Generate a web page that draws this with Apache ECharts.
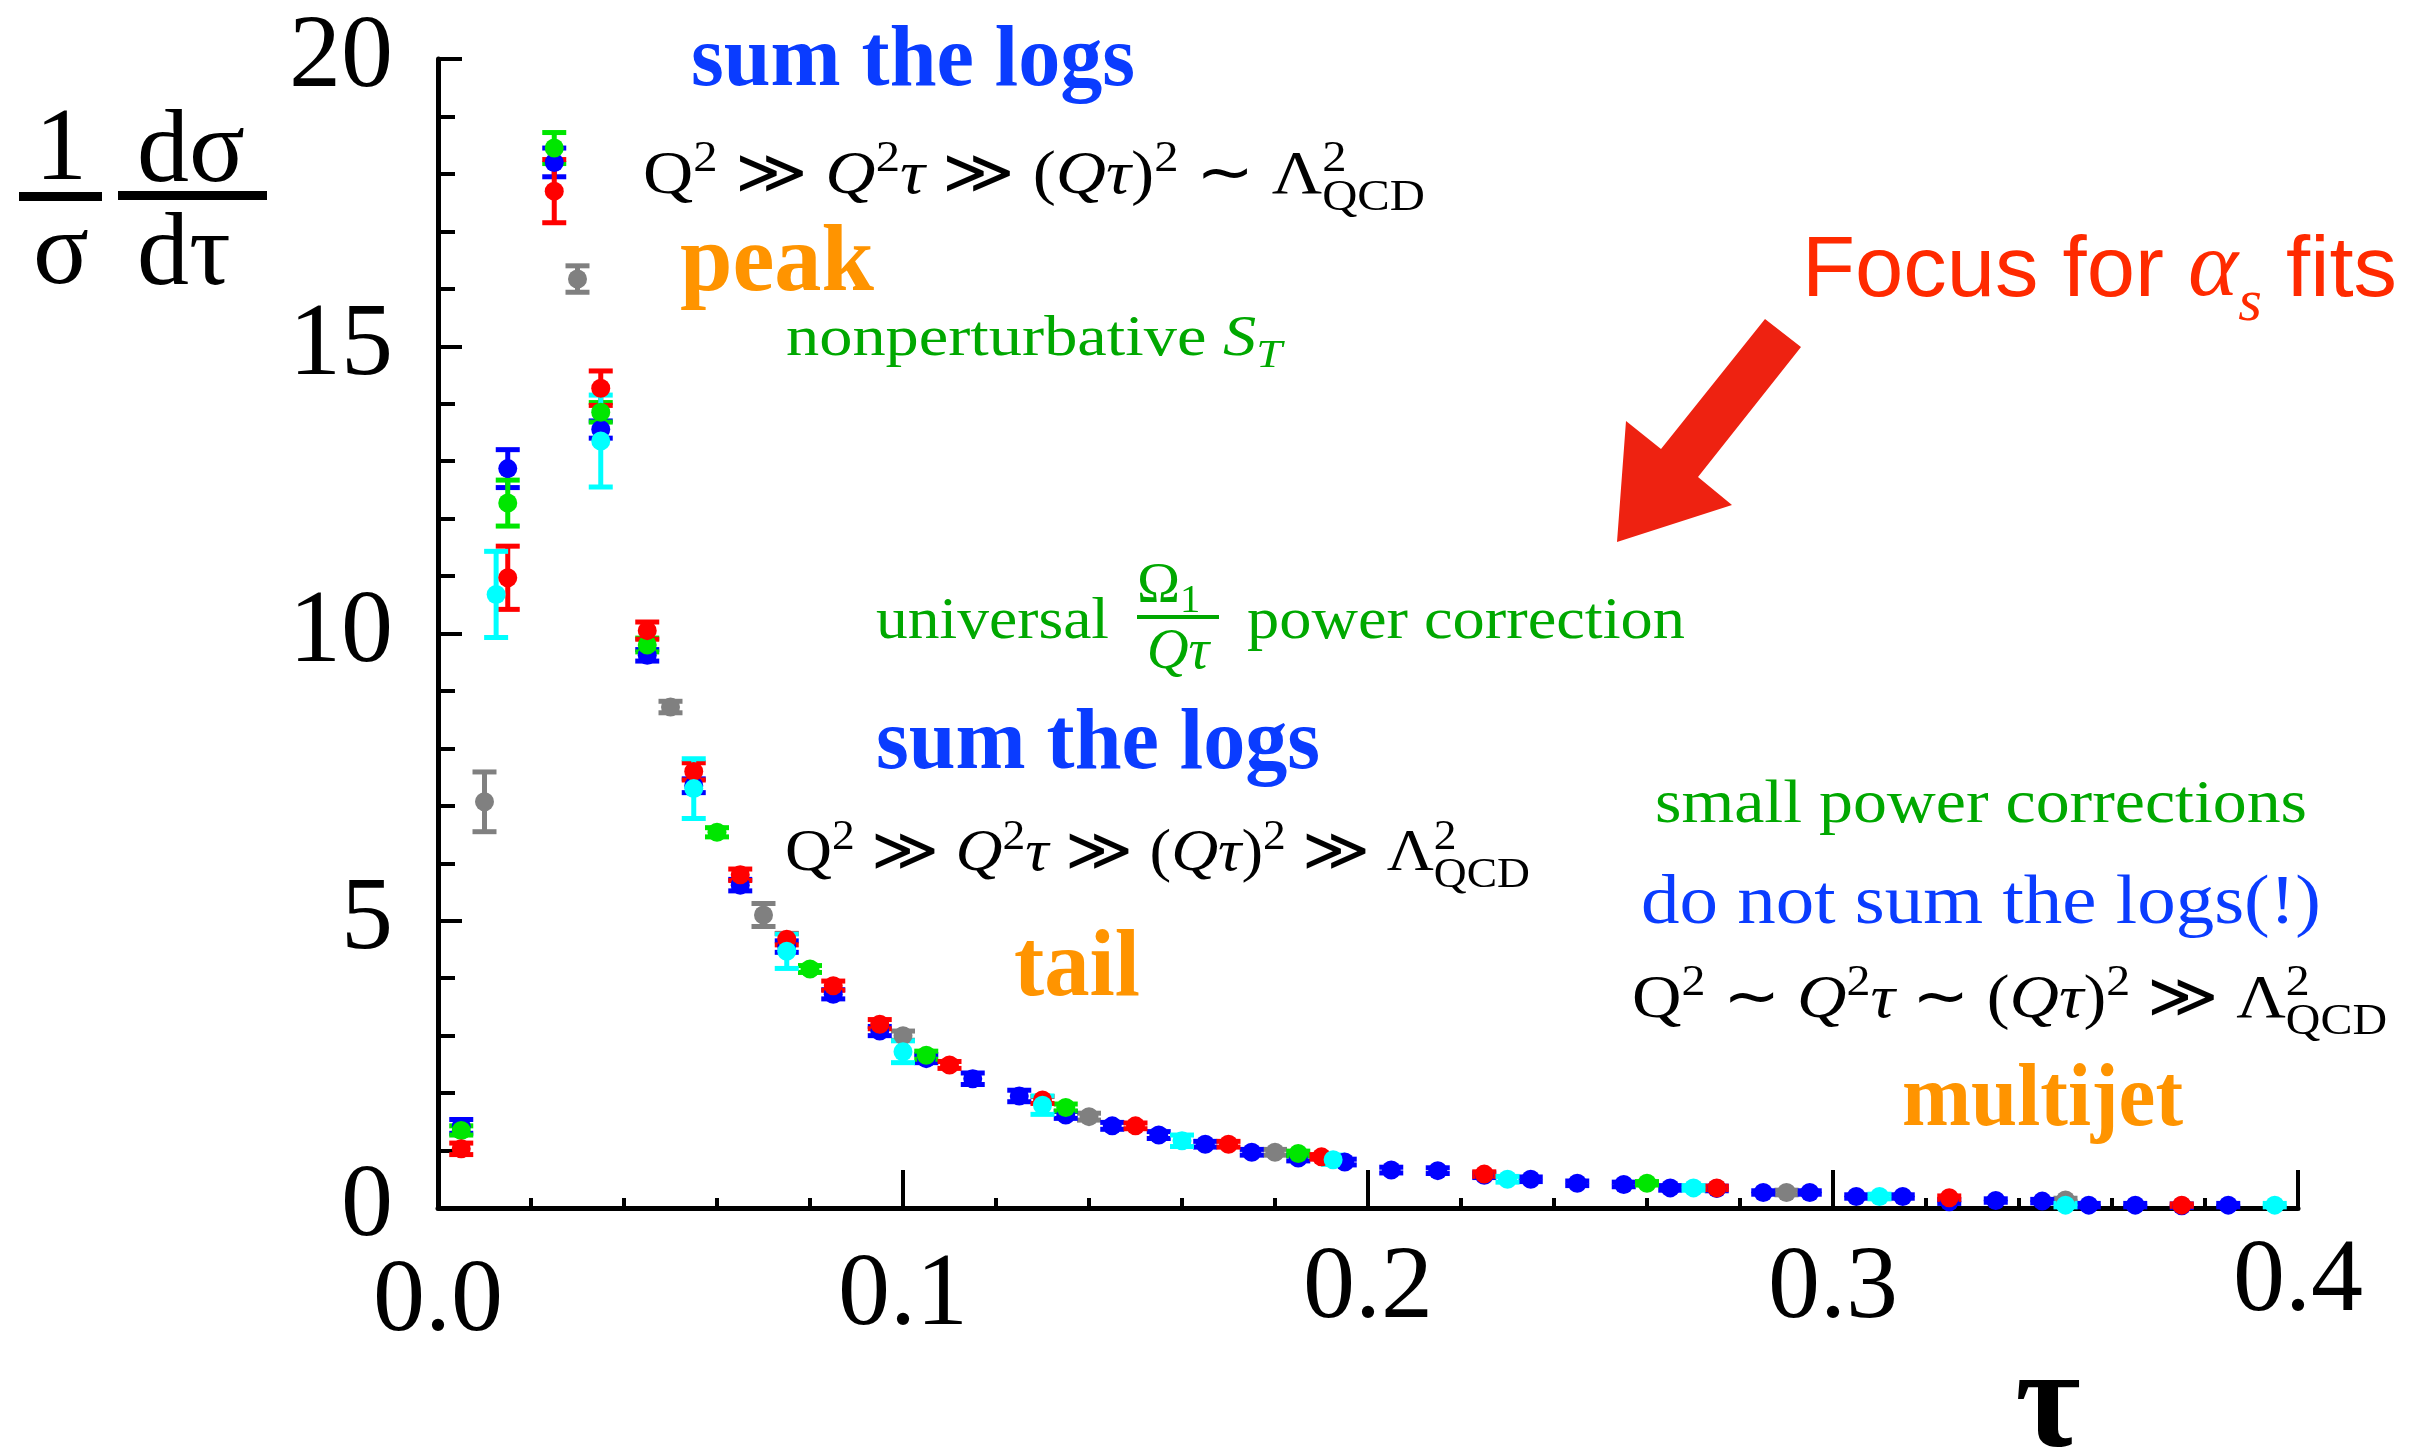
<!DOCTYPE html>
<html>
<head>
<meta charset="utf-8">
<script src="https://cdn.jsdelivr.net/npm/echarts@6/dist/echarts.min.js"></script>
<style>
  html, body { margin: 0; padding: 0; background: #fff; }
  #chart { width: 2428px; height: 1455px; }
</style>
</head>
<body>
<div id="chart"></div>
<script>
// Thrust distribution (1/σ) dσ/dτ from five experiments: [τ, value, error]
const grayData = [[0.01,7.07,0.52],[0.03,16.17,0.23],[0.05,8.72,0.1],[0.07,5.1,0.2],[0.1,3.0,0.08],[0.14,1.59,0.06],[0.18,0.97,0.05],[0.29,0.27,0.04],[0.35,0.14,0.03]];
const blueData = [[0.005,1.42,0.12],[0.015,12.87,0.33],[0.025,18.2,0.25],[0.035,13.55,0.15],[0.045,9.62,0.1],[0.055,7.35,0.12],[0.065,5.62,0.1],[0.075,4.55,0.1],[0.085,3.72,0.08],[0.095,3.08,0.08],[0.105,2.6,0.07],[0.115,2.25,0.1],[0.125,1.95,0.1],[0.135,1.62,0.06],[0.145,1.43,0.06],[0.155,1.27,0.06],[0.165,1.11,0.05],[0.175,0.97,0.05],[0.185,0.87,0.05],[0.195,0.8,0.05],[0.205,0.66,0.05],[0.215,0.65,0.05],[0.225,0.57,0.04],[0.235,0.5,0.04],[0.245,0.43,0.04],[0.255,0.41,0.04],[0.265,0.35,0.04],[0.275,0.34,0.04],[0.285,0.27,0.03],[0.295,0.27,0.03],[0.305,0.2,0.03],[0.315,0.2,0.03],[0.325,0.11,0.03],[0.335,0.13,0.03],[0.345,0.12,0.03],[0.355,0.05,0.03],[0.365,0.05,0.03],[0.375,0.04,0.03],[0.385,0.05,0.03]];
const greenData = [[0.005,1.35,0.08],[0.015,12.27,0.4],[0.025,18.45,0.27],[0.035,13.85,0.17],[0.045,9.8,0.12],[0.06,6.54,0.08],[0.08,4.16,0.06],[0.105,2.66,0.07],[0.135,1.75,0.06],[0.185,0.95,0.04],[0.26,0.43,0.03]];
const redData = [[0.005,1.03,0.1],[0.015,10.97,0.55],[0.025,17.7,0.55],[0.035,14.27,0.3],[0.045,10.05,0.15],[0.055,7.6,0.15],[0.065,5.8,0.1],[0.075,4.68,0.1],[0.085,3.87,0.08],[0.095,3.2,0.08],[0.11,2.49,0.06],[0.13,1.88,0.06],[0.15,1.43,0.05],[0.17,1.11,0.05],[0.19,0.89,0.04],[0.225,0.59,0.04],[0.275,0.35,0.03],[0.325,0.18,0.03],[0.375,0.05,0.02]];
const cyanData = [[0.0125,10.68,0.75],[0.035,13.35,0.8],[0.055,7.3,0.52],[0.075,4.47,0.3],[0.1,2.72,0.19],[0.13,1.79,0.16],[0.16,1.17,0.1],[0.1925,0.84,0.08],[0.23,0.5,0.05],[0.27,0.35,0.04],[0.31,0.2,0.04],[0.35,0.05,0.03],[0.395,0.05,0.03]];

const xTickLabels = ['0.0', '0.1', '0.2', '0.3', '0.4'];

const SERIF = "'Liberation Serif', 'Times New Roman', serif";
const SANS = "'Liberation Sans Narrow', 'Liberation Sans', Arial, sans-serif";
const BLUE_TXT = '#0a3cff', GREEN_TXT = '#00a800', ORANGE_TXT = '#ff9400', RED_TXT = '#ff2a00';

// Lays out a run of text pieces (roman / italic / super- and subscripts) on a common baseline.
const mctx = document.createElement('canvas').getContext('2d');
const MIDDLE_TO_BASELINE = 0.255;
function fontCss(p, fs) {
  return (p.it ? 'italic ' : '') + (p.b ? 'bold ' : '') + fs + 'px ' + (p.f || SERIF);
}
function textRun(o) {
  const items = [];
  let pen = 0, lastStart = 0;
  o.parts.forEach(p => {
    const fs = o.size * (p.s || 1);
    mctx.font = fontCss(p, fs);
    const w = mctx.measureText(p.t).width;
    let start;
    if (p.back) { start = lastStart; pen = Math.max(pen, start + w); }
    else { start = pen + (p.dx || 0) * o.size; pen = start + w; }
    lastStart = start;
    items.push({ p, fs, start });
  });
  const sx = o.width ? o.width / pen : 1;
  const x0 = o.align === 'center' ? o.x - pen * sx / 2 : o.x;
  return items.map(({ p, fs, start }) => ({
    type: 'text', silent: true, z: 10,
    x: x0 + start * sx,
    y: o.base - (p.dy || 0) * o.size - MIDDLE_TO_BASELINE * fs,
    scaleX: sx,
    style: {
      text: p.t, fontSize: fs, fontFamily: p.f || SERIF,
      fontStyle: p.it ? 'italic' : 'normal', fontWeight: p.b ? 'bold' : 'normal',
      fill: p.c || o.color || '#000', align: 'left', verticalAlign: 'middle'
    }
  }));
}
const SUP = { s: 0.7, dy: 0.36 };
function relation(rel) {
  return [{ t: 'Q' }, { t: '2', ...SUP }, { t: ' ' + rel[0] + ' ' },
          { t: 'Q', it: true }, { t: '2', ...SUP }, { t: 'τ', it: true }, { t: ' ' + rel[1] + ' (' },
          { t: 'Qτ', it: true }, { t: ')' }, { t: '2', ...SUP }, { t: ' ' + rel[2] + ' Λ' },
          { t: '2', ...SUP }, { t: 'QCD', s: 0.7, dy: -0.27, back: true }];
}

const annotations = [].concat(
  // axis titles
  textRun({ x: 61, base: 178, size: 104, align: 'center', parts: [{ t: '1' }] }),
  textRun({ x: 61, base: 282, size: 104, align: 'center', parts: [{ t: 'σ' }] }),
  [{ type: 'rect', silent: true, shape: { x: 19, y: 192, width: 83, height: 9 }, style: { fill: '#000' } }],
  textRun({ x: 137, base: 180, size: 104, parts: [{ t: 'dσ' }] }),
  textRun({ x: 137, base: 283, size: 104, parts: [{ t: 'dτ' }] }),
  [{ type: 'rect', silent: true, shape: { x: 118, y: 191, width: 149, height: 9 }, style: { fill: '#000' } }],
  textRun({ x: 2048, base: 1446, size: 142, align: 'center', parts: [{ t: 'τ', b: true }] }),

  // peak region
  textRun({ x: 691, base: 85, size: 86, width: 444, color: BLUE_TXT, parts: [{ t: 'sum the logs', b: true }] }),
  textRun({ x: 643, base: 193, size: 62, width: 782, parts: relation(['≫', '≫', '∼']) }),
  textRun({ x: 680, base: 290, size: 96, width: 194, color: ORANGE_TXT, parts: [{ t: 'peak', b: true }] }),
  textRun({ x: 786, base: 355, size: 56, width: 496, color: GREEN_TXT,
            parts: [{ t: 'nonperturbative ' }, { t: 'S', it: true }, { t: 'T', it: true, s: 0.7, dy: -0.2 }] }),

  // tail region
  textRun({ x: 876, base: 638, size: 60, width: 233, color: GREEN_TXT, parts: [{ t: 'universal' }] }),
  textRun({ x: 1137, base: 602, size: 58, color: GREEN_TXT, parts: [{ t: 'Ω' }, { t: '1', s: 0.7, dy: -0.17 }] }),
  [{ type: 'rect', silent: true, shape: { x: 1137, y: 615, width: 82, height: 4 }, style: { fill: GREEN_TXT } }],
  textRun({ x: 1178, base: 668, size: 58, align: 'center', color: GREEN_TXT, parts: [{ t: 'Qτ', it: true }] }),
  textRun({ x: 1247, base: 638, size: 60, width: 438, color: GREEN_TXT, parts: [{ t: 'power correction' }] }),
  textRun({ x: 876, base: 768, size: 86, width: 444, color: BLUE_TXT, parts: [{ t: 'sum the logs', b: true }] }),
  textRun({ x: 785, base: 870, size: 60, width: 745, parts: relation(['≫', '≫', '≫']) }),
  textRun({ x: 1014, base: 995, size: 96, width: 126, color: ORANGE_TXT, parts: [{ t: 'tail', b: true }] }),

  // multijet region
  textRun({ x: 1655, base: 822, size: 62, width: 652, color: GREEN_TXT, parts: [{ t: 'small power corrections' }] }),
  textRun({ x: 1641, base: 922, size: 70, width: 680, color: BLUE_TXT, parts: [{ t: 'do not sum the logs(!)' }] }),
  textRun({ x: 1632, base: 1017, size: 62, width: 755, parts: relation(['∼', '∼', '≫']) }),
  textRun({ x: 1902, base: 1125, size: 88, width: 281, color: ORANGE_TXT, parts: [{ t: 'multijet', b: true }] }),

  // fit region callout
  textRun({ x: 1802, base: 294, size: 85, width: 595, color: RED_TXT,
            parts: [{ t: 'Focus for ', f: SANS }, { t: 'α', it: true, s: 1.1 }, { t: 's', it: true, s: 0.7, dy: -0.3 }, { t: ' fits', f: SANS }] }),
  [{
    type: 'polygon', silent: true,
    shape: { points: [[1765, 319], [1801, 347], [1698, 477], [1732, 505], [1617, 542], [1626, 421], [1661, 449]] },
    style: { fill: '#ee2211' }
  }]
);

function errorBars(data, color) {
  return {
    type: 'custom', data: data, clip: false, silent: true,
    encode: { x: 0, y: 1 },
    renderItem: function (params, api) {
      const x = api.value(0), y = api.value(1), e = api.value(2);
      const top = api.coord([x, y + e]), bot = api.coord([x, y - e]);
      const hw = 12, st = { stroke: color, lineWidth: 5 };
      return {
        type: 'group', children: [
          { type: 'line', shape: { x1: top[0], y1: top[1], x2: bot[0], y2: bot[1] }, style: st },
          { type: 'line', shape: { x1: top[0] - hw, y1: top[1], x2: top[0] + hw, y2: top[1] }, style: st },
          { type: 'line', shape: { x1: bot[0] - hw, y1: bot[1], x2: bot[0] + hw, y2: bot[1] }, style: st }
        ]
      };
    }
  };
}
function points(data, color) {
  return {
    type: 'scatter', data: data.map(d => [d[0], d[1]]), clip: false, silent: true,
    symbol: 'circle', symbolSize: 19, itemStyle: { color: color, opacity: 1 }
  };
}

const sets = [
  [grayData, '#808080'],
  [blueData, '#0000ff'],
  [greenData, '#00e600'],
  [redData, '#ff0000'],
  [cyanData, '#00ffff']
];
const series = [];
sets.forEach(([d, c]) => { series.push(errorBars(d, c)); series.push(points(d, c)); });

const labelShift = [20, 14, 7, 7, 0];
const rich = {};
xTickLabels.forEach((t, i) => {
  rich['l' + i] = { fontSize: 104, fontFamily: SERIF, color: '#000', padding: [labelShift[i], 0, 0, 0] };
});

const chart = echarts.init(document.getElementById('chart'), null, { renderer: 'canvas' });
chart.setOption({
  animation: false,
  backgroundColor: '#fff',
  grid: { left: 438, right: 130, top: 59, bottom: 247, containLabel: false },
  xAxis: {
    type: 'value', min: 0, max: 0.4, interval: 0.1,
    axisLine: { show: true, onZero: false, lineStyle: { color: '#000', width: 5 } },
    axisTick: { show: true, inside: true, length: 38, lineStyle: { color: '#000', width: 4 } },
    minorTick: { show: true, splitNumber: 5, length: 10, lineStyle: { color: '#000', width: 4 } },
    splitLine: { show: false },
    axisLabel: {
      margin: 23,
      formatter: function (v) {
        const i = Math.round(v * 10);
        return '{l' + i + '|' + xTickLabels[i] + '}';
      },
      rich: rich
    }
  },
  yAxis: {
    type: 'value', min: 0, max: 20, interval: 5,
    axisLine: { show: true, onZero: false, lineStyle: { color: '#000', width: 5 } },
    axisTick: { show: true, inside: true, length: 24, lineStyle: { color: '#000', width: 4 } },
    minorTick: { show: true, splitNumber: 5, length: 17, lineStyle: { color: '#000', width: 4 } },
    splitLine: { show: false },
    axisLabel: { margin: 45, fontSize: 104, fontFamily: SERIF, color: '#000' }
  },
  series: series,
  graphic: { elements: annotations }
});
</script>
</body>
</html>
